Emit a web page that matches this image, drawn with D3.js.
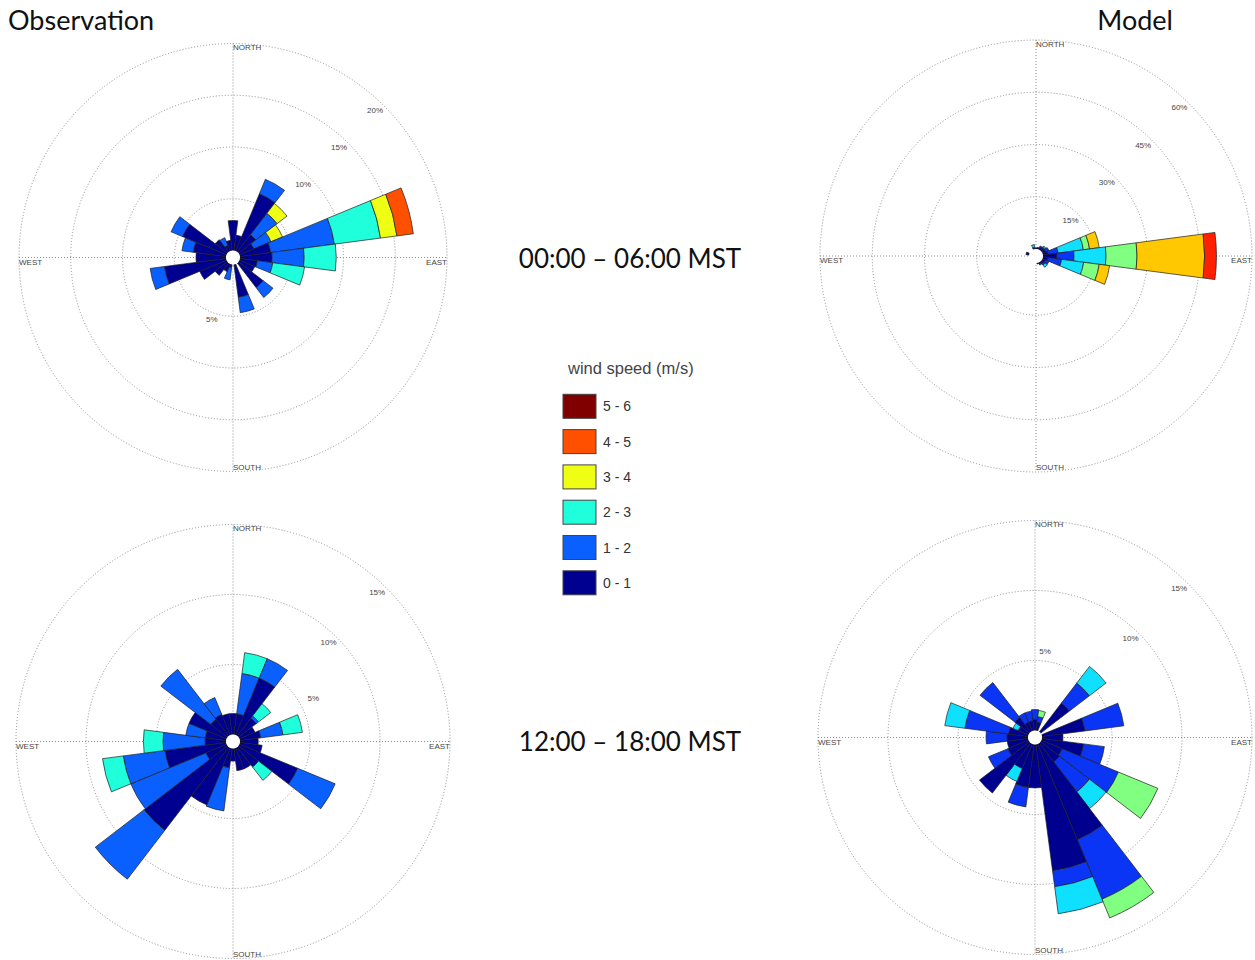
<!DOCTYPE html>
<html>
<head>
<meta charset="utf-8">
<script src="https://cdn.jsdelivr.net/npm/d3@7"></script>
<style>
  html, body { margin: 0; padding: 0; background: #fff; }
  svg { display: block; }
</style>
</head>
<body>
<svg id="chart" width="1255" height="960"></svg>
<script>
// ---- data -------------------------------------------------------------
// 24 direction sectors, degrees clockwise from north
const directions = [0, 15, 30, 45, 60, 75, 90, 105, 120, 135, 150, 165,
                    180, 195, 210, 225, 240, 255, 270, 285, 300, 315, 330, 345];

const speedBins = ["0 - 1", "1 - 2", "2 - 3", "3 - 4", "4 - 5", "5 - 6"];

const obsColors   = ["#000090", "#0a60ff", "#20ffdc", "#eeff14", "#ff5000", "#800000"];
const modelColors = ["#00008f", "#0b35f5", "#10e0ff", "#80ff80", "#ffc800", "#ff2000"];

// frequency (%) per speed class (rows) and direction (columns)
const obsNight = [
  [2.9, 1.5, 6.0, 2.1, 1.5, 3.0, 3.1, 1.7, 1.6, 3.0, 0, 3.2, 0, 0.3, 0.8, 1.5, 2.8, 6.0, 2.9, 3.2, 4.6, 1.5, 0.6, 1.0],
  [0, 0, 1.5, 2.6, 1.8, 6.2, 3.1, 1.5, 0, 1.2, 0, 1.5, 0, 1.2, 0, 0, 0, 1.4, 0, 1.1, 1.2, 0, 0.8, 0],
  [0, 0, 0, 0, 0, 4.5, 3.1, 3.1, 0, 0, 0, 0, 0, 0, 0, 0, 0, 0, 0, 0, 0, 0, 0, 0],
  [0, 0, 0, 1.2, 1.2, 1.6, 0, 0, 0, 0, 0, 0, 0, 0, 0, 0, 0, 0, 0, 0, 0, 0, 0, 0],
  [0, 0, 0, 0, 0, 1.6, 0, 0, 0, 0, 0, 0, 0, 0, 0, 0, 0, 0, 0, 0, 0, 0, 0, 0],
  [0, 0, 0, 0, 0, 0, 0, 0, 0, 0, 0, 0, 0, 0, 0, 0, 0, 0, 0, 0, 0, 0, 0, 0]
];

const modelNight = [
  [0.3, 0.5, 0.8, 0.8, 1.0, 1.5, 4.0, 1.5, 1.0, 0.8, 0.5, 0.3, 0, 0, 0, 0, 0, 0, 0, 0.9, 0, 0, 0, 0.3],
  [0, 0, 0.3, 0.4, 1.0, 2.9, 4.9, 3.9, 1.0, 0.5, 0.3, 0, 0, 0, 0, 0, 0, 0, 0, 0, 0, 0, 0, 0.2],
  [0, 0, 0, 0.4, 0, 7.3, 9.2, 6.4, 0, 0.8, 0, 0, 0, 0, 0, 0, 0, 0, 0, 0, 0, 0, 0, 0.8],
  [0, 0, 0, 0, 0, 1.8, 8.9, 4.5, 0, 0, 0, 0, 0, 0, 0, 0, 0, 0, 0, 0, 0, 0, 0, 0],
  [0, 0, 0, 0, 0, 2.8, 19.4, 3.0, 0, 0, 0, 0, 0, 0, 0, 0, 0, 0, 0, 0, 0, 0, 0, 0],
  [0, 0, 0, 0, 0, 0, 3.4, 0, 0, 0, 0, 0, 0, 0, 0, 0, 0, 0, 0, 0, 0, 0, 0, 0]
];

const obsDay = [
  [1.5, 1.5, 4.4, 1.6, 1.2, 1.5, 1.3, 1.6, 4.5, 1.8, 1.6, 1.6, 0.9, 1.4, 4.4, 7.5, 1.6, 4.4, 1.5, 1.5, 2.9, 1.5, 1.6, 1.5],
  [0, 2.9, 1.5, 0.2, 0, 1.6, 0, 0, 2.9, 0, 0, 0, 0, 3.1, 0, 4.4, 5.8, 3.0, 3.0, 1.4, 0, 4.5, 1.3, 0],
  [0, 1.5, 0, 1.1, 0, 1.4, 0, 0, 0, 1.2, 0, 0, 0, 0, 0, 0, 0, 1.5, 1.4, 0, 0, 0, 0, 0],
  [0, 0, 0, 0, 0, 0, 0, 0, 0, 0, 0, 0, 0, 0, 0, 0, 0, 0, 0, 0, 0, 0, 0, 0],
  [0, 0, 0, 0, 0, 0, 0, 0, 0, 0, 0, 0, 0, 0, 0, 0, 0, 0, 0, 0, 0, 0, 0, 0],
  [0, 0, 0, 0, 0, 0, 0, 0, 0, 0, 0, 0, 0, 0, 0, 0, 0, 0, 0, 0, 0, 0, 0, 0]
];

const modelDay = [
  [0.8, 0.6, 0, 2.6, 0, 3.1, 1.5, 3.0, 1.6, 1.7, 7.4, 9.1, 3.1, 3.1, 1.9, 4.5, 1.6, 1.5, 1.5, 1.4, 0.8, 1.3, 0.7, 0.7],
  [0.7, 0.4, 0, 1.8, 0, 2.8, 0, 1.5, 4.35, 2.7, 4.6, 1.15, 0, 1.4, 0, 0, 1.5, 0, 1.5, 3.15, 0, 3.15, 0.7, 0.7],
  [0, 0, 0, 1.5, 0, 0, 0, 0, 0, 1.5, 0, 1.95, 0, 0, 1.0, 0, 0, 0, 0, 1.45, 0.4, 0, 0, 0],
  [0, 0.45, 0, 0, 0, 0, 0, 0, 3.05, 0, 1.45, 0, 0, 0, 0, 0, 0, 0, 0, 0, 0, 0, 0, 0],
  [0, 0, 0, 0, 0, 0, 0, 0, 0, 0, 0, 0, 0, 0, 0, 0, 0, 0, 0, 0, 0, 0, 0, 0],
  [0, 0, 0, 0, 0, 0, 0, 0, 0, 0, 0, 0, 0, 0, 0, 0, 0, 0, 0, 0, 0, 0, 0, 0]
];

// ring values (%) for each rose
const obsNightTicks   = [5, 10, 15, 20];
const modelNightTicks = [15, 30, 45, 60];
const obsDayTicks     = [5, 10, 15];
const modelDayTicks   = [5, 10, 15];

const compassLabels = ["NORTH", "EAST", "SOUTH", "WEST"];
const periodLabels  = ["00:00 \u2013 06:00 MST", "12:00 \u2013 18:00 MST"];
const sourceLabels  = ["Observation", "Model"];
const legendTitle   = "wind speed (m/s)";

// ---- layout -----------------------------------------------------------
const svg = d3.select("#chart");
const sectorHalf = 7.5;               // half sector width, degrees
const toRad = d => d * Math.PI / 180;
const gridColor = "#8e8e8e";

const roses = [
  { cx: 233,  cy: 257.5, R: 214, r0: 7, ticks: obsNightTicks,   data: obsNight,   colors: obsColors,
    firstLabel: { angle: 199, dr: 6.5 } },
  { cx: 1036, cy: 256,   R: 216, r0: 7, ticks: modelNightTicks, data: modelNight, colors: modelColors,
    firstLabel: null },
  { cx: 233,  cy: 741.5, R: 217, r0: 7, ticks: obsDayTicks,     data: obsDay,     colors: obsColors,
    firstLabel: { angle: 62, dr: 14 } },
  { cx: 1035, cy: 737.5, R: 217, r0: 7, ticks: modelDayTicks,   data: modelDay,   colors: modelColors,
    firstLabel: { angle: 6.6, dr: 10 } }
];

function drawRose(cfg) {
  const g = svg.append("g").attr("transform", `translate(${cfg.cx},${cfg.cy})`);
  const r = d3.scaleLinear().domain([0, d3.max(cfg.ticks)]).range([cfg.r0, cfg.R]);

  // dotted rings
  g.append("g").selectAll("circle").data(cfg.ticks).join("circle")
    .attr("r", d => r(d))
    .attr("fill", "none")
    .attr("stroke", gridColor)
    .attr("stroke-width", 1)
    .attr("stroke-dasharray", "1,2");

  // dotted cross
  g.append("line").attr("x1", -cfg.R).attr("x2", cfg.R).attr("y1", 0).attr("y2", 0)
    .attr("stroke", gridColor).attr("stroke-dasharray", "1,2");
  g.append("line").attr("y1", -cfg.R).attr("y2", cfg.R).attr("x1", 0).attr("x2", 0)
    .attr("stroke", gridColor).attr("stroke-dasharray", "1,2");

  // stacked sector segments
  const segments = [];
  directions.forEach((dir, i) => {
    let acc = 0;
    cfg.data.forEach((row, k) => {
      const v = row[i];
      if (v > 0) segments.push({ dir, k, start: acc, end: acc + v });
      acc += v;
    });
  });
  const arc = d3.arc()
    .innerRadius(d => r(d.start))
    .outerRadius(d => r(d.end))
    .startAngle(d => toRad(d.dir - sectorHalf))
    .endAngle(d => toRad(d.dir + sectorHalf));
  g.append("g").selectAll("path").data(segments).join("path")
    .attr("d", arc)
    .attr("fill", d => cfg.colors[d.k])
    .attr("stroke", "#1e1e1e")
    .attr("stroke-width", 0.7)
    .attr("stroke-linejoin", "round");

  // white hub
  g.append("circle").attr("r", cfg.r0).attr("fill", "#fff");

  // compass labels
  const lbl = { "font-family": "Liberation Sans, Arial, sans-serif", "font-size": "8px", fill: "#444" };
  const place = [
    { t: compassLabels[0], x: 0, y: -cfg.R + 4, anchor: "start" },
    { t: compassLabels[1], x: cfg.R, y: 4.5, anchor: "end" },
    { t: compassLabels[2], x: 0, y: cfg.R - 4.5, anchor: "start" },
    { t: compassLabels[3], x: -cfg.R, y: 4.5, anchor: "start" }
  ];
  place.forEach(p => {
    const t = g.append("text").attr("x", p.x).attr("y", p.y)
      .attr("text-anchor", p.anchor).attr("dominant-baseline", "central").text(p.t);
    Object.entries(lbl).forEach(([k, v]) => t.attr(k, v));
  });

  // ring value labels
  cfg.ticks.forEach((tv, i) => {
    let ang = 44, rad = r(tv) - 9.5;
    if (i === 0 && cfg.firstLabel) { ang = cfg.firstLabel.angle; rad = r(tv) + cfg.firstLabel.dr; }
    const t = g.append("text")
      .attr("x", rad * Math.sin(toRad(ang)))
      .attr("y", -rad * Math.cos(toRad(ang)))
      .attr("text-anchor", "middle").attr("dominant-baseline", "central")
      .text(tv + "%");
    Object.entries(lbl).forEach(([k, v]) => t.attr(k, v));
  });
}

roses.forEach(drawRose);

// titles
svg.append("text").attr("x", 8).attr("y", 29.5)
  .attr("font-family", "Lato, sans-serif").attr("font-size", 27).attr("fill", "#111")
  .text(sourceLabels[0]);
svg.append("text").attr("x", 1173).attr("y", 29.5).attr("text-anchor", "end")
  .attr("font-family", "Lato, sans-serif").attr("font-size", 27).attr("fill", "#111")
  .text(sourceLabels[1]);

svg.selectAll("text.period").data(periodLabels).join("text")
  .attr("class", "period")
  .attr("x", 630)
  .attr("y", (d, i) => i === 0 ? 267.5 : 750.5)
  .attr("text-anchor", "middle")
  .attr("font-family", "Lato, sans-serif").attr("font-size", 26).attr("fill", "#111")
  .text(d => d);

// legend
const legend = svg.append("g");
legend.append("text").attr("x", 568).attr("y", 373.5)
  .attr("font-family", "Liberation Sans, Arial, sans-serif").attr("font-size", 16.5).attr("fill", "#444")
  .text(legendTitle);
const legendRows = speedBins.map((s, i) => ({ label: s, color: obsColors[i] })).reverse();
const ly = d3.scalePoint().domain(legendRows.map(d => d.label)).range([394.3, 570.8]);
legend.selectAll("rect").data(legendRows).join("rect")
  .attr("x", 563).attr("y", d => ly(d.label))
  .attr("width", 33).attr("height", 24)
  .attr("fill", d => d.color)
  .attr("stroke", "#444").attr("stroke-width", 1);
legend.selectAll("text.lg").data(legendRows).join("text")
  .attr("class", "lg")
  .attr("x", 603).attr("y", d => ly(d.label) + 12)
  .attr("dominant-baseline", "central")
  .attr("font-family", "Liberation Sans, Arial, sans-serif").attr("font-size", 14).attr("fill", "#333")
  .text(d => d.label);
</script>
</body>
</html>
